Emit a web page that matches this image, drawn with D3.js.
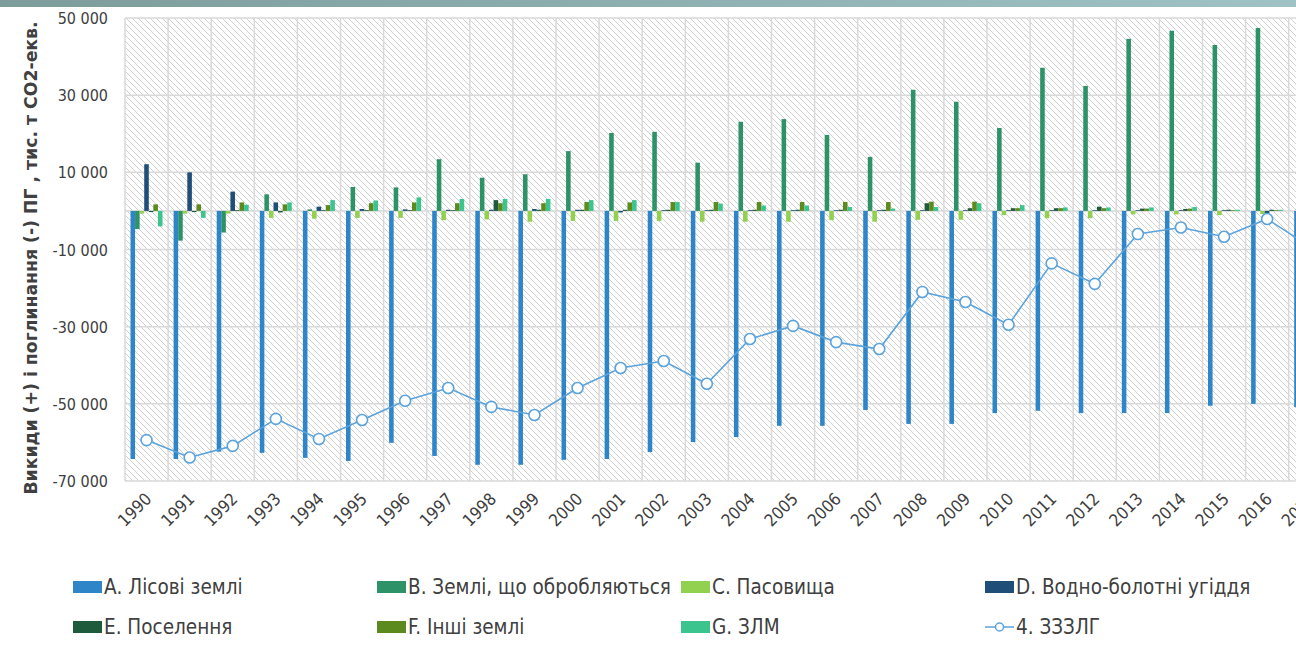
<!DOCTYPE html>
<html>
<head>
<meta charset="utf-8">
<script src="https://cdn.jsdelivr.net/npm/d3@7"></script>
<style>
  body { margin: 0; background: #fff; overflow: hidden; }
  svg { display: block; }
  .tick-label { font-family: 'Liberation Sans Narrow', 'DejaVu Sans Condensed', 'Arial Narrow', sans-serif; fill: #404040; }
  .legend-text { font-family: 'Liberation Sans Narrow', 'DejaVu Sans Condensed', 'Arial Narrow', sans-serif; fill: #404040; }
</style>
</head>
<body>
<svg id="chart"></svg>
<script>
const years = d3.range(1990, 2018).map(String);

const forest = [-64300, -64300, -62400, -62700, -64000, -64800, -60100, -63500, -65800, -65800,
  -64500, -64300, -62500, -59900, -58600, -55700, -55700, -51600, -55200, -55200,
  -52400, -51800, -52400, -52400, -52400, -50500, -50000, -50800];
const cropland = [-4700, -7700, -5600, 4300, 400, 6200, 6100, 13400, 8600, 9500,
  15500, 20200, 20500, 12500, 23100, 23800, 19700, 14000, 31400, 28300,
  21500, 37100, 32400, 44600, 46700, 43000, 47400, 45000];
const grassland = [-700, -700, -700, -1800, -2000, -1800, -1800, -2400, -2200, -2800,
  -2600, -2600, -2600, -2800, -2800, -2800, -2400, -2800, -2300, -2300,
  -1100, -1900, -1900, -900, -900, -1100, -800, -900];
const wetlands = [12100, 10000, 5000, 2200, 1100, 500, 400, 300, 300, 500,
  300, -400, 200, 200, 200, 200, 200, 200, 200, 200,
  200, 200, 200, 200, 200, 200, -600, 200];
const settlements = [-300, -300, 200, -400, 200, 200, 200, 200, 2800, 300,
  300, 300, 300, 300, 300, 300, 300, 300, 2000, 700,
  700, 700, 1100, 600, 500, 300, 300, 300];
const otherLand = [1700, 1700, 2200, 1700, 1500, 2000, 2200, 2000, 2000, 2000,
  2300, 2200, 2300, 2300, 2300, 2300, 2300, 2300, 2400, 2400,
  700, 700, 700, 600, 600, 200, 200, 200];
const hwp = [-4000, -1800, 1600, 2200, 2800, 2700, 3500, 3100, 3100, 3100,
  2800, 2800, 2300, 1900, 1400, 1400, 1000, 600, 1000, 2000,
  1500, 900, 900, 900, 1000, 300, 300, 300];
const total = [-59400, -63900, -60900, -53900, -59100, -54200, -49200, -45900, -50800, -52900,
  -45900, -40700, -38900, -44800, -33200, -29800, -34000, -35800, -21000, -23600,
  -29500, -13600, -18900, -6000, -4300, -6700, -2100, -9300];

const seriesNames = ['А. Лісові землі', 'В. Землі, що обробляються', 'С. Пасовища', 'D. Водно-болотні угіддя',
  'Е. Поселення', 'F. Інші землі', 'G. ЗЛМ'];
const lineName = '4. ЗЗЗЛГ';
const yTicks = [50000, 30000, 10000, -10000, -30000, -50000, -70000];

const series = [forest, cropland, grassland, wetlands, settlements, otherLand, hwp];
const colors = ['#2e86c8', '#2e9269', '#92d050', '#1f4e78', '#1e5a3c', '#5c8a1e', '#3cc48f'];
const lineColor = '#5ba3dc';

const width = 1296,
  height = 651,
  plot = {left: 125, top: 18, bottom: 481, step: 43.1};

const svg = d3.select('#chart')
  .attr('width', width)
  .attr('height', height);

const defs = svg.append('defs');

const grad = defs.append('linearGradient')
  .attr('id', 'topbar')
  .attr('x1', 0).attr('x2', 1).attr('y1', 0).attr('y2', 0);
grad.append('stop').attr('offset', '0%').attr('stop-color', '#7d9c9c');
grad.append('stop').attr('offset', '100%').attr('stop-color', '#9fc3c5');

const hatch = defs.append('pattern')
  .attr('id', 'hatch')
  .attr('patternUnits', 'userSpaceOnUse')
  .attr('width', 6)
  .attr('height', 6);
hatch.append('rect').attr('width', 6).attr('height', 6).attr('fill', '#fff');
hatch.append('path')
  .attr('d', 'M-1,-1 L7,7 M-4,2 L2,8 M4,-2 L8,2')
  .attr('stroke', '#d0d0d0')
  .attr('stroke-width', 1);

svg.append('rect')
  .attr('x', 0).attr('y', 0)
  .attr('width', width).attr('height', 7)
  .attr('fill', 'url(#topbar)');

const x0 = d3.scaleBand()
  .domain(years)
  .range([plot.left, plot.left + plot.step * years.length])
  .padding(0);

const x1 = d3.scaleBand()
  .domain(d3.range(series.length))
  .range([5.5, 37.5])
  .padding(0);

const y = d3.scaleLinear()
  .domain([-70000, 50000])
  .range([plot.bottom, plot.top]);

const plotRight = x0.range()[1];

svg.append('rect')
  .attr('x', plot.left)
  .attr('y', plot.top)
  .attr('width', plotRight - plot.left)
  .attr('height', plot.bottom - plot.top)
  .attr('fill', 'url(#hatch)');

const grid = svg.append('g');

grid.selectAll('.hgrid')
  .data(yTicks.concat([0]))
  .enter().append('line')
  .attr('x1', plot.left)
  .attr('x2', plotRight)
  .attr('y1', d => y(d))
  .attr('y2', d => y(d))
  .attr('stroke', '#d9d9d9')
  .attr('stroke-width', 1.5);

grid.selectAll('.vgrid')
  .data(years)
  .enter().append('line')
  .attr('x1', d => x0(d))
  .attr('x2', d => x0(d))
  .attr('y1', plot.top)
  .attr('y2', plot.bottom)
  .attr('stroke', '#d9d9d9')
  .attr('stroke-width', 1.5);

const groups = svg.append('g')
  .selectAll('g')
  .data(years)
  .enter().append('g')
  .attr('transform', d => `translate(${x0(d)},0)`);

groups.selectAll('rect')
  .data((d, i) => series.map((s, k) => ({k, v: s[i]})))
  .enter().append('rect')
  .attr('x', d => x1(d.k))
  .attr('width', x1.bandwidth())
  .attr('y', d => y(Math.max(0, d.v)))
  .attr('height', d => Math.abs(y(d.v) - y(0)))
  .attr('fill', d => colors[d.k]);

const lineGen = d3.line()
  .x((d, i) => x0(years[i]) + x0.bandwidth() / 2)
  .y(d => y(d));

svg.append('path')
  .datum(total)
  .attr('d', lineGen)
  .attr('fill', 'none')
  .attr('stroke', lineColor)
  .attr('stroke-width', 1.6);

svg.append('g')
  .selectAll('circle')
  .data(total)
  .enter().append('circle')
  .attr('cx', (d, i) => x0(years[i]) + x0.bandwidth() / 2)
  .attr('cy', d => y(d))
  .attr('r', 5.5)
  .attr('fill', '#fff')
  .attr('stroke', lineColor)
  .attr('stroke-width', 1.6);

svg.append('g')
  .selectAll('text')
  .data(yTicks)
  .enter().append('text')
  .attr('class', 'tick-label')
  .attr('x', 108)
  .attr('y', d => y(d) + 6)
  .attr('text-anchor', 'end')
  .attr('font-size', 16)
  .text(d => d3.format(',')(d).replace(/,/g, ' ').replace('−', '-'));

svg.append('g')
  .selectAll('text')
  .data(years)
  .enter().append('text')
  .attr('class', 'tick-label')
  .attr('font-size', 17)
  .attr('text-anchor', 'end')
  .attr('transform', d => `translate(${x0(d) + x0.bandwidth() / 2 + 6},${plot.bottom + 19}) rotate(-45)`)
  .text(d => d);

svg.append('text')
  .attr('transform', `translate(37,258) rotate(-90)`)
  .attr('text-anchor', 'middle')
  .attr('font-family', 'DejaVu Sans, Verdana, sans-serif')
  .attr('font-weight', 'bold')
  .attr('font-size', 17.3)
  .attr('fill', '#404040')
  .text('Викиди (+) і поглинання (-) ПГ , тис. т СО2-екв.');

const legendItems = seriesNames.map((name, i) => ({name, color: colors[i], type: 'bar'}))
  .concat([{name: lineName, color: lineColor, type: 'line'}]);

const legend = svg.append('g')
  .selectAll('g')
  .data(legendItems)
  .enter().append('g')
  .attr('transform', (d, i) => `translate(${73 + (i % 4) * 304},${587 + Math.floor(i / 4) * 40})`);

legend.filter(d => d.type === 'bar')
  .append('rect')
  .attr('x', 0)
  .attr('y', -6)
  .attr('width', 29)
  .attr('height', 12)
  .attr('fill', d => d.color);

const lineKey = legend.filter(d => d.type === 'line');
lineKey.append('line')
  .attr('x1', 0).attr('x2', 29)
  .attr('y1', 0).attr('y2', 0)
  .attr('stroke', d => d.color)
  .attr('stroke-width', 1.5);
lineKey.append('circle')
  .attr('cx', 14.5).attr('cy', 0).attr('r', 4)
  .attr('fill', '#fff')
  .attr('stroke', d => d.color)
  .attr('stroke-width', 1.5);

legend.append('text')
  .attr('class', 'legend-text')
  .attr('x', 31)
  .attr('y', 7)
  .attr('font-size', 20.5)
  .text(d => d.name);
</script>
</body>
</html>
